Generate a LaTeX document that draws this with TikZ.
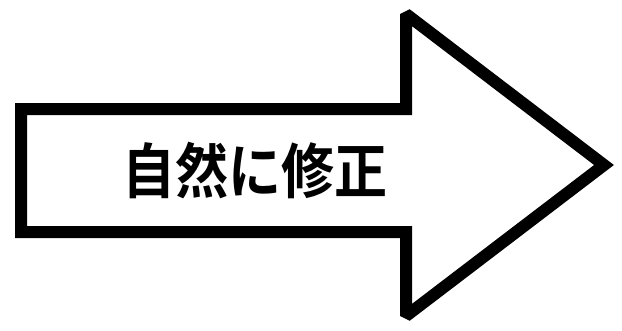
\documentclass[tikz,border=0pt]{standalone}
\usepackage{fontspec}
\newfontfamily\cjk{Noto Sans CJK JP Bold}
\tikzset{
  arrowoutline/.style={draw=black, line width=12pt, line join=miter, miter limit=2, fill=white},
  labeltext/.style={font=\cjk\fontsize{52}{52}\selectfont, inner sep=0pt, xscale=1.02, yscale=1.15}
}
\begin{document}
\begin{tikzpicture}[x=1pt, y=-1pt]
\useasboundingbox (0,0) rectangle (622,330);
\draw[arrowoutline] (21,109) -- (406,109) -- (406,14) -- (604,165) -- (406,316) -- (406,232) -- (21,232) -- cycle;
\node[labeltext] (label) at (255,171) {自然に修正};
\end{tikzpicture}
\end{document}
